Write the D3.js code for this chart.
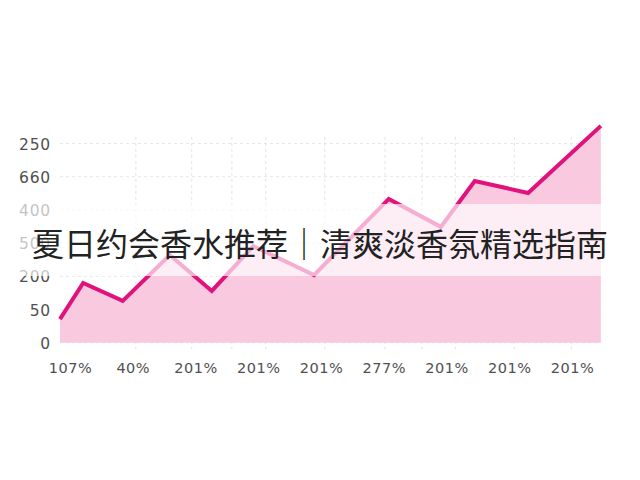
<!DOCTYPE html>
<html>
<head>
<meta charset="utf-8">
<script src="https://cdn.jsdelivr.net/npm/d3@7"></script>
<style>
  html, body { margin: 0; padding: 0; background: #ffffff; }
  svg { display: block; }
</style>
</head>
<body>
<svg id="chart" width="640" height="480"></svg>
<script>
// ---- data ----
const title = "夏日约会香水推荐｜清爽淡香氛精选指南";
const xTickLabels = ["107%", "40%", "201%", "201%", "201%", "277%", "201%", "201%", "201%"];
const yTickLabels = ["0", "50", "200", "500", "400", "660", "250"];
const pointX = [-0.16, 0.21, 0.84, 1.59, 2.26, 2.92, 3.89, 5.08, 5.91, 6.45, 7.30, 8.46];
const pointY = [0.71, 1.80, 1.26, 2.64, 1.56, 2.91, 2.04, 4.33, 3.49, 4.87, 4.51, 6.53];
const vGrid = [1.05, 1.94, 2.58, 3.12, 4.06, 5.02, 5.61, 6.14, 7.08, 7.99];

// ---- layout ----
const svg = d3.select("#chart");
const x = d3.scaleLinear().domain([0, 8]).range([70, 572]);
const y = d3.scaleLinear().domain([0, 6]).range([342.7, 143.5]);
const xMin = d3.min(pointX), xMax = d3.max(pointX);
const data = pointX.map((d, i) => ({ x: d, y: pointY[i] }));
const tickFont = "'DejaVu Sans', Verdana, sans-serif";

// horizontal grid
svg.append("g").selectAll("line")
  .data(d3.range(yTickLabels.length))
  .join("line")
  .attr("x1", x(xMin)).attr("x2", x(xMax))
  .attr("y1", d => y(d)).attr("y2", d => y(d))
  .attr("stroke", "#e6e6e6").attr("stroke-width", 1)
  .attr("stroke-dasharray", "3,3");

// vertical grid
svg.append("g").selectAll("line")
  .data(vGrid)
  .join("line")
  .attr("x1", d => x(d)).attr("x2", d => x(d))
  .attr("y1", y(6.2)).attr("y2", y(-0.2))
  .attr("stroke", "#e3e3e3").attr("stroke-width", 1)
  .attr("stroke-dasharray", "3,3");

// area
const area = d3.area().x(d => x(d.x)).y0(y(0)).y1(d => y(d.y));
svg.append("path").datum(data)
  .attr("d", area)
  .attr("fill", "#f9c9e0");

// line
const line = d3.line().x(d => x(d.x)).y(d => y(d.y));
svg.append("path").datum(data)
  .attr("d", line)
  .attr("fill", "none")
  .attr("stroke", "#e0127c")
  .attr("stroke-width", 4)
  .attr("stroke-linejoin", "miter");

// y axis labels
const yAxis = d3.axisLeft(y)
  .tickValues(d3.range(yTickLabels.length))
  .tickFormat(i => yTickLabels[i])
  .tickSize(0).tickPadding(0);
const gy = svg.append("g").attr("transform", "translate(51,0)").call(yAxis);
gy.select(".domain").remove();
gy.selectAll("text")
  .attr("font-family", tickFont)
  .attr("font-size", 15.5)
  .attr("letter-spacing", 0.8)
  .attr("fill", "#505050")
  .attr("dy", "0.36em");

// x axis labels
const xAxis = d3.axisBottom(x)
  .tickValues(d3.range(xTickLabels.length))
  .tickFormat(i => xTickLabels[i])
  .tickSize(0).tickPadding(0);
const gx = svg.append("g").attr("transform", "translate(0,363)").call(xAxis);
gx.select(".domain").remove();
gx.selectAll("text")
  .attr("font-family", tickFont)
  .attr("font-size", 14.5)
  .attr("letter-spacing", 0.5)
  .attr("fill", "#505050")
  .attr("dy", "0.71em");

// title band
svg.append("rect")
  .attr("x", 0).attr("width", 640)
  .attr("y", 204).attr("height", 72)
  .attr("fill", "#ffffff").attr("fill-opacity", 0.66);

svg.append("text")
  .attr("x", 320).attr("y", 256)
  .attr("text-anchor", "middle")
  .attr("font-family", "'Noto Sans CJK SC', sans-serif")
  .attr("font-size", 32)
  .attr("fill", "#222")
  .text(title);
</script>
</body>
</html>
